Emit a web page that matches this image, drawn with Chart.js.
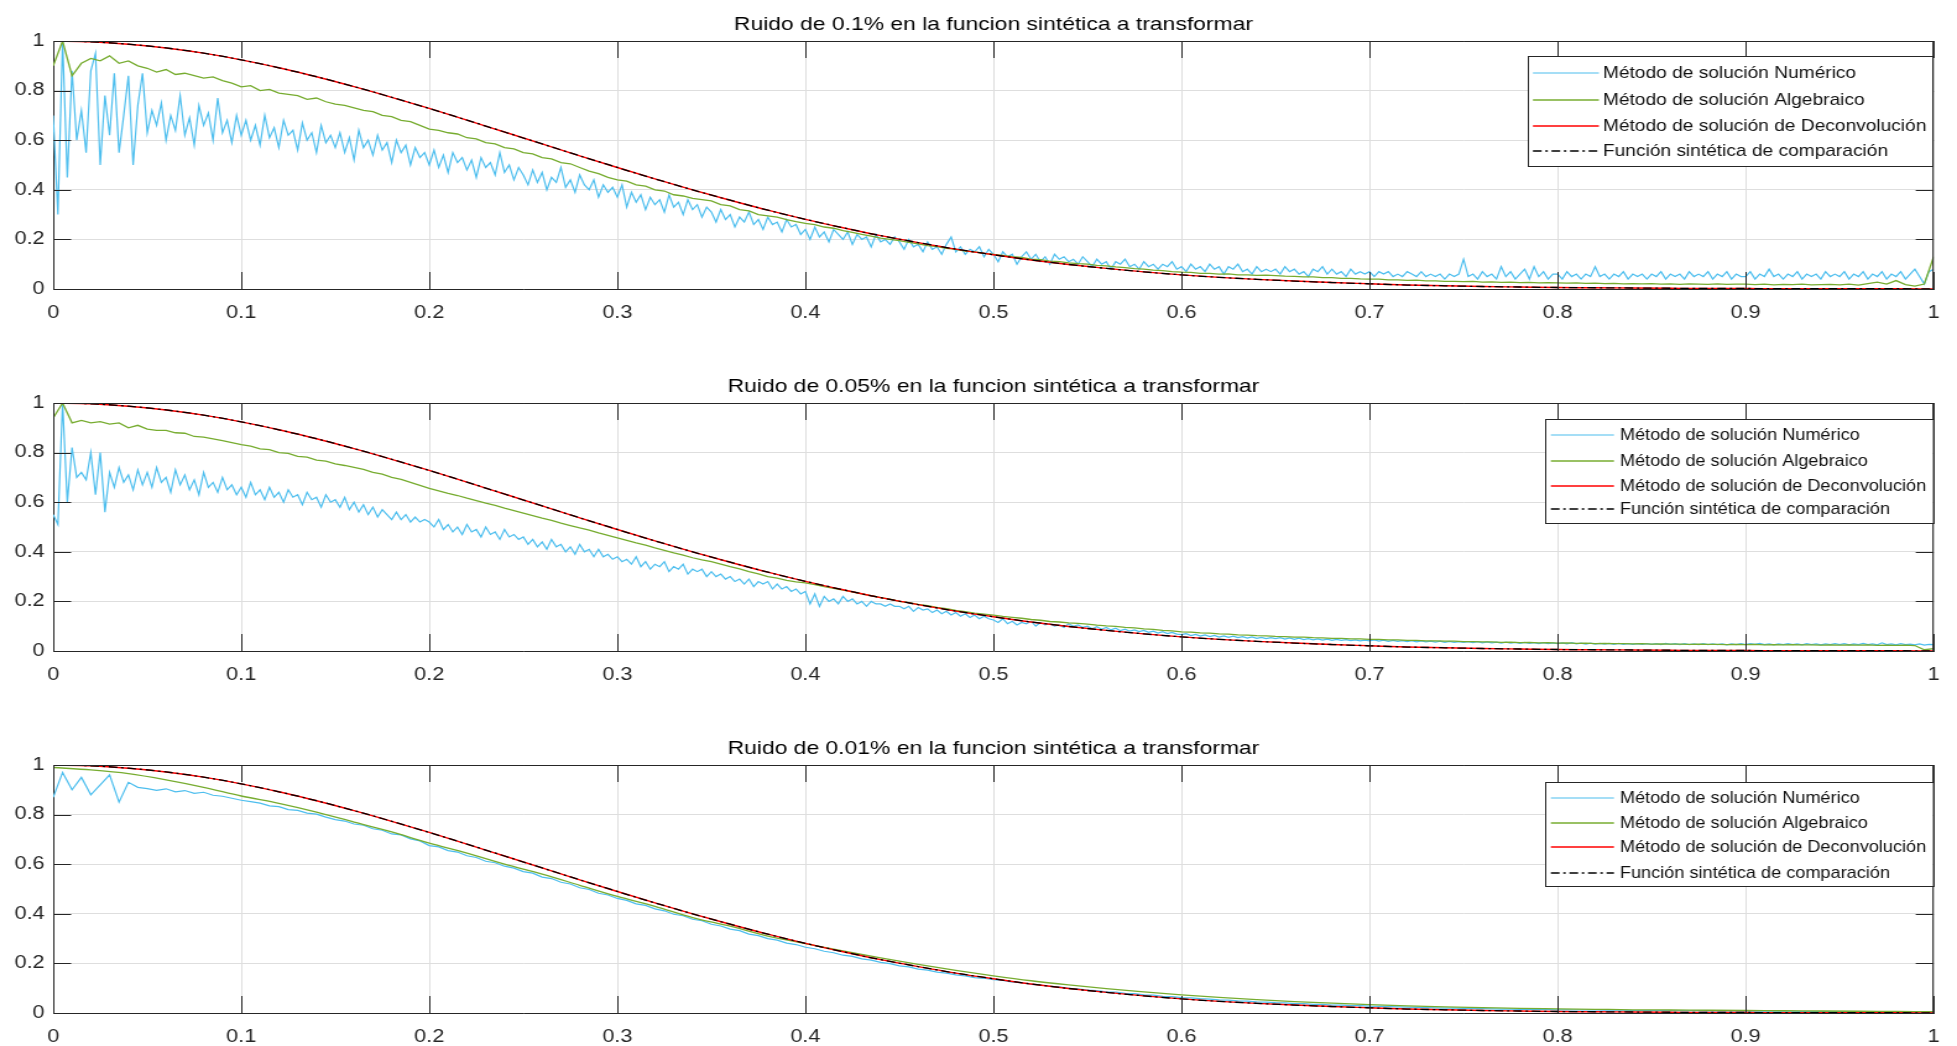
<!DOCTYPE html>
<html><head><meta charset="utf-8">
<script src="https://cdn.jsdelivr.net/npm/chart.js@4.4.1/dist/chart.umd.min.js"></script>
<style>
html,body{margin:0;padding:0;background:#fff;width:1957px;height:1046px;overflow:hidden;}
canvas.panel{position:absolute;left:0;transform-origin:0 0;transform:scaleX(1.23704);}
</style></head><body>
<canvas id="c0" class="panel" width="1582" height="334" style="top:0px;width:1582px;height:334px"></canvas>
<canvas id="c1" class="panel" width="1582" height="334" style="top:362px;width:1582px;height:334px"></canvas>
<canvas id="c2" class="panel" width="1582" height="334" style="top:724px;width:1582px;height:334px"></canvas>
<script>
// ---------- DATA ----------
const titulos = [
  'Ruido de 0.1% en la funcion sintética a transformar',
  'Ruido de 0.05% en la funcion sintética a transformar',
  'Ruido de 0.01% en la funcion sintética a transformar'
];
const seriesLabels = [
  'Método de solución Numérico',
  'Método de solución Algebraico',
  'Método de solución de Deconvolución',
  'Función sintética de comparación'
];
const xTicks = [0,0.1,0.2,0.3,0.4,0.5,0.6,0.7,0.8,0.9,1];
const xTickLabels = ['0','0.1','0.2','0.3','0.4','0.5','0.6','0.7','0.8','0.9','1'];
const yTicks = [0,0.2,0.4,0.6,0.8,1];
const yTickLabels = ['0','0.2','0.4','0.6','0.8','1'];

// fine grid (step 0.0025) for the noisy numeric series of the 0.1% and 0.05% panels
const xDenso = [
0,0.0025,0.005,0.0075,0.01,0.0125,0.015,0.0175,0.02,0.0225,0.025,0.0275,0.03,0.0325,0.035,0.0375,0.04,0.0425,0.045,0.0475,
0.05,0.0525,0.055,0.0575,0.06,0.0625,0.065,0.0675,0.07,0.0725,0.075,0.0775,0.08,0.0825,0.085,0.0875,0.09,0.0925,0.095,0.0975,
0.1,0.1025,0.105,0.1075,0.11,0.1125,0.115,0.1175,0.12,0.1225,0.125,0.1275,0.13,0.1325,0.135,0.1375,0.14,0.1425,0.145,0.1475,
0.15,0.1525,0.155,0.1575,0.16,0.1625,0.165,0.1675,0.17,0.1725,0.175,0.1775,0.18,0.1825,0.185,0.1875,0.19,0.1925,0.195,0.1975,
0.2,0.2025,0.205,0.2075,0.21,0.2125,0.215,0.2175,0.22,0.2225,0.225,0.2275,0.23,0.2325,0.235,0.2375,0.24,0.2425,0.245,0.2475,
0.25,0.2525,0.255,0.2575,0.26,0.2625,0.265,0.2675,0.27,0.2725,0.275,0.2775,0.28,0.2825,0.285,0.2875,0.29,0.2925,0.295,0.2975,
0.3,0.3025,0.305,0.3075,0.31,0.3125,0.315,0.3175,0.32,0.3225,0.325,0.3275,0.33,0.3325,0.335,0.3375,0.34,0.3425,0.345,0.3475,
0.35,0.3525,0.355,0.3575,0.36,0.3625,0.365,0.3675,0.37,0.3725,0.375,0.3775,0.38,0.3825,0.385,0.3875,0.39,0.3925,0.395,0.3975,
0.4,0.4025,0.405,0.4075,0.41,0.4125,0.415,0.4175,0.42,0.4225,0.425,0.4275,0.43,0.4325,0.435,0.4375,0.44,0.4425,0.445,0.4475,
0.45,0.4525,0.455,0.4575,0.46,0.4625,0.465,0.4675,0.47,0.4725,0.475,0.4775,0.48,0.4825,0.485,0.4875,0.49,0.4925,0.495,0.4975,
0.5,0.5025,0.505,0.5075,0.51,0.5125,0.515,0.5175,0.52,0.5225,0.525,0.5275,0.53,0.5325,0.535,0.5375,0.54,0.5425,0.545,0.5475,
0.55,0.5525,0.555,0.5575,0.56,0.5625,0.565,0.5675,0.57,0.5725,0.575,0.5775,0.58,0.5825,0.585,0.5875,0.59,0.5925,0.595,0.5975,
0.6,0.6025,0.605,0.6075,0.61,0.6125,0.615,0.6175,0.62,0.6225,0.625,0.6275,0.63,0.6325,0.635,0.6375,0.64,0.6425,0.645,0.6475,
0.65,0.6525,0.655,0.6575,0.66,0.6625,0.665,0.6675,0.67,0.6725,0.675,0.6775,0.68,0.6825,0.685,0.6875,0.69,0.6925,0.695,0.6975,
0.7,0.7025,0.705,0.7075,0.71,0.7125,0.715,0.7175,0.72,0.7225,0.725,0.7275,0.73,0.7325,0.735,0.7375,0.74,0.7425,0.745,0.7475,
0.75,0.7525,0.755,0.7575,0.76,0.7625,0.765,0.7675,0.77,0.7725,0.775,0.7775,0.78,0.7825,0.785,0.7875,0.79,0.7925,0.795,0.7975,
0.8,0.8025,0.805,0.8075,0.81,0.8125,0.815,0.8175,0.82,0.8225,0.825,0.8275,0.83,0.8325,0.835,0.8375,0.84,0.8425,0.845,0.8475,
0.85,0.8525,0.855,0.8575,0.86,0.8625,0.865,0.8675,0.87,0.8725,0.875,0.8775,0.88,0.8825,0.885,0.8875,0.89,0.8925,0.895,0.8975,
0.9,0.9025,0.905,0.9075,0.91,0.9125,0.915,0.9175,0.92,0.9225,0.925,0.9275,0.93,0.9325,0.935,0.9375,0.94,0.9425,0.945,0.9475,
0.95,0.9525,0.955,0.9575,0.96,0.9625,0.965,0.9675,0.97,0.9725,0.975,0.9775,0.98,0.9825,0.985,0.9875,0.99,0.9925,0.995,0.9975,
1];

// grid step 0.005
const xFino = [
0,0.005,0.01,0.015,0.02,0.025,0.03,0.035,0.04,0.045,
0.05,0.055,0.06,0.065,0.07,0.075,0.08,0.085,0.09,0.095,
0.1,0.105,0.11,0.115,0.12,0.125,0.13,0.135,0.14,0.145,
0.15,0.155,0.16,0.165,0.17,0.175,0.18,0.185,0.19,0.195,
0.2,0.205,0.21,0.215,0.22,0.225,0.23,0.235,0.24,0.245,
0.25,0.255,0.26,0.265,0.27,0.275,0.28,0.285,0.29,0.295,
0.3,0.305,0.31,0.315,0.32,0.325,0.33,0.335,0.34,0.345,
0.35,0.355,0.36,0.365,0.37,0.375,0.38,0.385,0.39,0.395,
0.4,0.405,0.41,0.415,0.42,0.425,0.43,0.435,0.44,0.445,
0.45,0.455,0.46,0.465,0.47,0.475,0.48,0.485,0.49,0.495,
0.5,0.505,0.51,0.515,0.52,0.525,0.53,0.535,0.54,0.545,
0.55,0.555,0.56,0.565,0.57,0.575,0.58,0.585,0.59,0.595,
0.6,0.605,0.61,0.615,0.62,0.625,0.63,0.635,0.64,0.645,
0.65,0.655,0.66,0.665,0.67,0.675,0.68,0.685,0.69,0.695,
0.7,0.705,0.71,0.715,0.72,0.725,0.73,0.735,0.74,0.745,
0.75,0.755,0.76,0.765,0.77,0.775,0.78,0.785,0.79,0.795,
0.8,0.805,0.81,0.815,0.82,0.825,0.83,0.835,0.84,0.845,
0.85,0.855,0.86,0.865,0.87,0.875,0.88,0.885,0.89,0.895,
0.9,0.905,0.91,0.915,0.92,0.925,0.93,0.935,0.94,0.945,
0.95,0.955,0.96,0.965,0.97,0.975,0.98,0.985,0.99,0.995,
1];

// grid step 0.02 for the smooth curves
const xSuave = [0,0.02,0.04,0.06,0.08,0.1,0.12,0.14,0.16,0.18,
0.2,0.22,0.24,0.26,0.28,0.3,0.32,0.34,0.36,0.38,
0.4,0.42,0.44,0.46,0.48,0.5,0.52,0.54,0.56,0.58,
0.6,0.62,0.64,0.66,0.68,0.7,0.72,0.74,0.76,0.78,
0.8,0.82,0.84,0.86,0.88,0.9,0.92,0.94,0.96,0.98,1];

const sintetica = [1,0.997,0.987,0.972,0.951,0.924,0.892,0.856,0.816,0.773,
0.728,0.681,0.633,0.585,0.537,0.490,0.444,0.400,0.358,0.318,
0.281,0.247,0.215,0.187,0.161,0.138,0.117,0.099,0.083,0.069,
0.057,0.047,0.039,0.032,0.026,0.021,0.016,0.013,0.010,0.008,
0.006,0.005,0.004,0.003,0.002,0.002,0.001,0.001,0.001,0.001,0.000];

const deconvolucion = [1,0.997,0.987,0.972,0.951,0.924,0.892,0.856,0.816,0.773,
0.728,0.681,0.633,0.585,0.537,0.490,0.444,0.400,0.358,0.318,
0.281,0.247,0.215,0.187,0.161,0.138,0.117,0.099,0.083,0.069,
0.057,0.047,0.039,0.032,0.026,0.021,0.016,0.013,0.010,0.008,
0.006,0.005,0.004,0.003,0.002,0.002,0.001,0.001,0.001,0.001,0.000];

// Ruido 0.1 %  (numeric on xDenso, algebraic on xFino)
const numerico01 = [
0.70,0.30,1.00,0.45,0.88,0.60,0.72,0.55,0.88,0.95,0.50,0.78,0.62,0.87,0.55,0.70,0.86,0.50,0.74,0.87,
0.63,0.72,0.66,0.75,0.60,0.70,0.64,0.78,0.62,0.69,0.58,0.74,0.66,0.71,0.60,0.77,0.63,0.68,0.59,0.70,
0.62,0.68,0.60,0.66,0.58,0.70,0.61,0.65,0.57,0.68,0.62,0.64,0.56,0.67,0.60,0.63,0.55,0.66,0.59,0.62,
0.57,0.63,0.55,0.61,0.52,0.64,0.57,0.60,0.54,0.62,0.56,0.59,0.51,0.60,0.55,0.58,0.50,0.57,0.53,0.55,
0.50,0.56,0.49,0.54,0.47,0.55,0.51,0.53,0.48,0.52,0.45,0.53,0.49,0.51,0.46,0.55,0.47,0.50,0.44,0.49,
0.46,0.42,0.48,0.43,0.47,0.40,0.45,0.43,0.49,0.41,0.44,0.39,0.46,0.42,0.40,0.44,0.37,0.42,0.39,0.41,
0.37,0.42,0.33,0.39,0.35,0.38,0.32,0.37,0.34,0.36,0.31,0.38,0.33,0.35,0.30,0.36,0.32,0.34,0.29,0.33,
0.31,0.27,0.32,0.28,0.30,0.25,0.29,0.27,0.31,0.26,0.28,0.24,0.29,0.26,0.27,0.23,0.28,0.25,0.26,0.22,
0.24,0.20,0.25,0.21,0.23,0.19,0.24,0.22,0.20,0.23,0.18,0.22,0.20,0.21,0.17,0.22,0.19,0.20,0.18,0.21,
0.19,0.16,0.20,0.17,0.18,0.15,0.19,0.16,0.17,0.14,0.18,0.21,0.15,0.17,0.14,0.16,0.15,0.17,0.13,0.16,
0.14,0.11,0.15,0.13,0.14,0.10,0.13,0.15,0.12,0.14,0.11,0.13,0.10,0.14,0.12,0.13,0.11,0.12,0.10,0.13,
0.11,0.09,0.12,0.10,0.11,0.08,0.11,0.10,0.12,0.09,0.10,0.08,0.11,0.09,0.10,0.08,0.10,0.09,0.11,0.08,
0.09,0.07,0.10,0.08,0.09,0.07,0.10,0.08,0.09,0.06,0.09,0.08,0.10,0.07,0.08,0.06,0.09,0.07,0.08,0.07,
0.08,0.06,0.09,0.07,0.08,0.06,0.07,0.05,0.08,0.07,0.09,0.06,0.08,0.06,0.07,0.05,0.08,0.06,0.07,0.06,
0.07,0.05,0.07,0.06,0.07,0.05,0.06,0.05,0.07,0.06,0.05,0.07,0.05,0.06,0.05,0.06,0.04,0.06,0.05,0.06,
0.12,0.05,0.06,0.04,0.07,0.05,0.06,0.04,0.09,0.05,0.07,0.04,0.06,0.08,0.04,0.09,0.05,0.07,0.04,0.06,
0.06,0.04,0.07,0.05,0.06,0.04,0.06,0.05,0.09,0.05,0.06,0.04,0.06,0.05,0.07,0.04,0.06,0.05,0.06,0.04,
0.06,0.05,0.07,0.04,0.06,0.05,0.06,0.04,0.07,0.05,0.06,0.05,0.07,0.04,0.06,0.05,0.07,0.04,0.06,0.05,
0.05,0.07,0.04,0.06,0.05,0.08,0.05,0.06,0.04,0.06,0.05,0.07,0.04,0.06,0.05,0.06,0.04,0.07,0.05,0.06,
0.05,0.07,0.04,0.06,0.05,0.07,0.04,0.06,0.05,0.07,0.04,0.06,0.05,0.07,0.04,0.06,0.08,0.05,0.02,0.07,
0.08];
const algebraico01 = [
0.90,1.00,0.86,0.91,0.93,0.92,0.94,0.91,0.92,0.90,
0.89,0.875,0.885,0.865,0.87,0.86,0.85,0.855,0.84,0.83,
0.815,0.82,0.80,0.805,0.79,0.785,0.78,0.765,0.77,0.755,
0.745,0.74,0.73,0.72,0.715,0.70,0.695,0.68,0.675,0.66,
0.645,0.64,0.63,0.625,0.61,0.605,0.59,0.585,0.57,0.565,
0.55,0.545,0.53,0.525,0.51,0.505,0.49,0.475,0.465,0.45,
0.44,0.435,0.42,0.415,0.40,0.395,0.38,0.375,0.365,0.36,
0.355,0.34,0.335,0.32,0.315,0.30,0.295,0.29,0.28,0.272,
0.265,0.26,0.25,0.245,0.235,0.228,0.22,0.213,0.205,0.20,
0.195,0.188,0.182,0.175,0.171,0.164,0.16,0.153,0.15,0.144,
0.14,0.136,0.13,0.127,0.12,0.118,0.112,0.11,0.105,0.102,
0.10,0.095,0.093,0.089,0.086,0.082,0.08,0.076,0.074,0.07,
0.068,0.067,0.063,0.063,0.06,0.061,0.057,0.057,0.055,0.056,
0.054,0.052,0.051,0.049,0.049,0.046,0.046,0.043,0.043,0.041,
0.04,0.04,0.037,0.037,0.035,0.036,0.033,0.033,0.031,0.031,
0.03,0.031,0.028,0.029,0.027,0.028,0.026,0.027,0.025,0.026,
0.025,0.024,0.025,0.023,0.024,0.022,0.023,0.021,0.022,0.021,
0.022,0.02,0.021,0.019,0.021,0.02,0.019,0.021,0.019,0.02,
0.02,0.018,0.02,0.017,0.019,0.018,0.02,0.017,0.018,0.019,
0.017,0.02,0.016,0.022,0.028,0.02,0.034,0.018,0.012,0.02,
0.13];

// Ruido 0.05 %  (numeric on xDenso, algebraic on xFino)
const numerico005 = [
0.55,0.51,1.00,0.60,0.82,0.70,0.72,0.69,0.80,0.63,0.80,0.56,0.72,0.66,0.74,0.68,0.71,0.65,0.73,0.67,
0.72,0.66,0.74,0.68,0.70,0.64,0.73,0.67,0.71,0.65,0.69,0.63,0.72,0.66,0.68,0.64,0.70,0.65,0.67,0.63,
0.66,0.62,0.68,0.63,0.65,0.61,0.66,0.62,0.64,0.60,0.65,0.62,0.63,0.59,0.64,0.61,0.62,0.58,0.63,0.60,
0.61,0.58,0.62,0.57,0.60,0.56,0.59,0.55,0.58,0.54,0.57,0.55,0.53,0.56,0.53,0.55,0.52,0.54,0.52,0.53,
0.52,0.50,0.53,0.49,0.51,0.48,0.50,0.47,0.51,0.48,0.49,0.46,0.50,0.47,0.48,0.45,0.49,0.46,0.47,0.45,
0.46,0.43,0.45,0.42,0.44,0.41,0.45,0.42,0.43,0.40,0.42,0.39,0.43,0.40,0.41,0.38,0.41,0.38,0.39,0.37,
0.38,0.36,0.37,0.35,0.38,0.34,0.36,0.33,0.35,0.34,0.36,0.32,0.34,0.33,0.35,0.31,0.33,0.32,0.33,0.30,
0.32,0.30,0.31,0.29,0.30,0.28,0.29,0.27,0.29,0.26,0.28,0.27,0.28,0.25,0.27,0.25,0.26,0.24,0.25,0.23,
0.24,0.19,0.23,0.18,0.22,0.20,0.21,0.19,0.22,0.20,0.21,0.19,0.20,0.18,0.20,0.19,0.19,0.18,0.19,0.18,
0.18,0.17,0.18,0.16,0.175,0.165,0.17,0.155,0.165,0.15,0.16,0.145,0.155,0.14,0.15,0.135,0.145,0.13,0.14,0.13,
0.125,0.115,0.13,0.11,0.12,0.105,0.115,0.11,0.12,0.10,0.115,0.105,0.11,0.10,0.105,0.095,0.11,0.10,0.105,0.095,
0.10,0.09,0.098,0.088,0.095,0.085,0.092,0.082,0.088,0.08,0.085,0.078,0.083,0.075,0.08,0.072,0.078,0.07,0.075,0.068,
0.066,0.07,0.062,0.067,0.06,0.065,0.058,0.063,0.056,0.061,0.055,0.06,0.054,0.058,0.052,0.057,0.051,0.055,0.05,0.054,
0.05,0.054,0.048,0.053,0.047,0.052,0.046,0.05,0.045,0.049,0.044,0.048,0.043,0.047,0.043,0.046,0.042,0.045,0.041,0.044,
0.041,0.045,0.04,0.044,0.039,0.043,0.039,0.042,0.038,0.042,0.037,0.041,0.037,0.04,0.036,0.04,0.035,0.039,0.035,0.038,
0.035,0.038,0.034,0.038,0.033,0.037,0.033,0.036,0.032,0.036,0.032,0.035,0.031,0.035,0.031,0.034,0.03,0.034,0.03,0.033,
0.03,0.033,0.029,0.034,0.029,0.032,0.028,0.032,0.028,0.031,0.028,0.031,0.027,0.031,0.027,0.03,0.027,0.03,0.027,0.03,
0.027,0.03,0.026,0.031,0.027,0.03,0.026,0.03,0.026,0.029,0.026,0.03,0.026,0.029,0.026,0.029,0.025,0.029,0.026,0.03,
0.026,0.03,0.027,0.031,0.026,0.029,0.025,0.029,0.026,0.03,0.026,0.029,0.025,0.03,0.026,0.029,0.025,0.029,0.026,0.03,
0.026,0.03,0.025,0.029,0.026,0.031,0.026,0.029,0.025,0.033,0.026,0.029,0.025,0.03,0.026,0.028,0.025,0.029,0.024,0.027,
0.026];
const algebraico005 = [
0.94,1.00,0.92,0.93,0.92,0.925,0.915,0.92,0.90,0.91,
0.895,0.89,0.89,0.88,0.878,0.865,0.862,0.855,0.848,0.84,
0.832,0.826,0.815,0.812,0.80,0.797,0.785,0.782,0.77,0.766,
0.755,0.748,0.74,0.732,0.72,0.713,0.70,0.692,0.68,0.668,
0.656,0.646,0.636,0.627,0.616,0.606,0.596,0.587,0.576,0.566,
0.556,0.546,0.536,0.527,0.516,0.506,0.496,0.487,0.476,0.466,
0.456,0.446,0.436,0.427,0.416,0.406,0.396,0.387,0.376,0.367,
0.36,0.35,0.34,0.331,0.32,0.311,0.30,0.294,0.285,0.279,
0.275,0.268,0.26,0.253,0.245,0.238,0.23,0.223,0.215,0.209,
0.20,0.195,0.188,0.183,0.176,0.171,0.164,0.159,0.153,0.149,
0.145,0.14,0.136,0.132,0.127,0.124,0.119,0.117,0.113,0.111,
0.108,0.104,0.101,0.099,0.095,0.093,0.089,0.087,0.083,0.081,
0.077,0.076,0.073,0.072,0.069,0.068,0.065,0.064,0.062,0.061,
0.059,0.058,0.056,0.056,0.054,0.053,0.051,0.051,0.049,0.049,
0.047,0.047,0.045,0.045,0.043,0.043,0.041,0.041,0.04,0.04,
0.038,0.038,0.037,0.037,0.035,0.036,0.034,0.035,0.033,0.034,
0.032,0.033,0.031,0.032,0.03,0.031,0.03,0.03,0.029,0.03,
0.028,0.029,0.028,0.028,0.027,0.028,0.027,0.027,0.026,0.027,
0.026,0.027,0.025,0.026,0.025,0.026,0.025,0.025,0.024,0.025,
0.024,0.025,0.024,0.025,0.023,0.024,0.023,0.024,0.022,0.005,
0.01];

// Ruido 0.01 %  (numeric on xFino, algebraic on xSuave)
const numerico001 = [
0.87,0.97,0.90,0.95,0.88,0.92,0.96,0.85,0.93,0.91,
0.905,0.898,0.904,0.892,0.897,0.886,0.890,0.878,0.874,0.866,
0.858,0.852,0.846,0.835,0.832,0.820,0.817,0.806,0.802,0.790,
0.780,0.774,0.762,0.757,0.743,0.737,0.722,0.718,0.702,0.694,
0.675,0.670,0.655,0.649,0.634,0.627,0.612,0.606,0.592,0.584,
0.570,0.564,0.548,0.542,0.527,0.520,0.505,0.498,0.483,0.476,
0.462,0.454,0.440,0.434,0.420,0.412,0.398,0.392,0.378,0.372,
0.358,0.351,0.338,0.332,0.318,0.312,0.300,0.294,0.282,0.276,
0.265,0.259,0.249,0.243,0.233,0.228,0.218,0.213,0.204,0.199,
0.190,0.186,0.177,0.173,0.165,0.161,0.154,0.150,0.143,0.140,
0.134,0.131,0.124,0.122,0.115,0.113,0.107,0.105,0.099,0.097,
0.092,0.090,0.085,0.084,0.079,0.078,0.073,0.072,0.067,0.066,
0.062,0.061,0.058,0.056,0.053,0.052,0.049,0.048,0.045,0.044,
0.042,0.041,0.038,0.038,0.035,0.035,0.032,0.032,0.030,0.030,
0.028,0.027,0.026,0.025,0.024,0.023,0.022,0.021,0.020,0.020,
0.019,0.018,0.018,0.017,0.016,0.016,0.015,0.015,0.014,0.014,
0.013,0.013,0.012,0.012,0.012,0.011,0.011,0.011,0.010,0.010,
0.010,0.010,0.009,0.009,0.009,0.009,0.008,0.008,0.008,0.008,
0.008,0.007,0.007,0.007,0.007,0.007,0.006,0.006,0.006,0.006,
0.006,0.006,0.005,0.005,0.005,0.005,0.005,0.005,0.004,0.004,
0.003];
const algebraico001 = [0.99,0.98,0.965,0.94,0.91,0.875,0.845,0.81,0.77,0.73,
0.685,0.645,0.60,0.56,0.515,0.47,0.43,0.385,0.35,0.31,
0.28,0.25,0.222,0.196,0.172,0.15,0.13,0.113,0.098,0.085,
0.073,0.063,0.054,0.046,0.04,0.034,0.029,0.025,0.022,0.019,
0.017,0.015,0.013,0.012,0.011,0.01,0.009,0.008,0.007,0.006,0.005];

// ---------- STYLE / LAYOUT ----------
const FONT = "'Liberation Sans', Arial, Helvetica, sans-serif";
const AXIS_COLOR = '#262626';
const GRID_COLOR = '#dedede';
const COLORS = ['#4DBEEE', '#77AC30', '#FF0000', '#000000'];

const paneles = [
  {id:'c0', titulo:titulos[0], num:[xDenso,numerico01], alg:[xFino,algebraico01], algSuave:false,
   leg:{x0:1235.2,x1:1562.5,y0:15,y1:125,s0:1239.2,s1:1292.5,tx:1295.8,rows:[32,59,85,110],squeeze:0.91}},
  {id:'c1', titulo:titulos[1], num:[xDenso,numerico005], alg:[xFino,algebraico005], algSuave:false,
   leg:{x0:1248.9,x1:1562.5,y0:16,y1:120,s0:1253.7,s1:1304.7,tx:1309.5,rows:[32,58,83,106],squeeze:0.862}},
  {id:'c2', titulo:titulos[2], num:[xFino,numerico001], alg:[xSuave,algebraico001], algSuave:true,
   leg:{x0:1248.9,x1:1562.5,y0:17,y1:121,s0:1253.7,s1:1304.7,tx:1309.5,rows:[33,58,82,108],squeeze:0.862}}
];

const pts = (xs, ys) => xs.map((x, i) => ({x: x, y: ys[i]}));

function boxPlugin() {
  return {
    id: 'caja',
    afterDraw(chart) {
      const ctx = chart.ctx, a = chart.chartArea;
      const sx = chart.scales.x, sy = chart.scales.y;
      ctx.save();
      ctx.strokeStyle = AXIS_COLOR;
      ctx.lineWidth = 1;
      ctx.beginPath();
      ctx.moveTo(a.left, a.top + 0.5); ctx.lineTo(a.right, a.top + 0.5);
      ctx.moveTo(a.right - 0.5, a.top); ctx.lineTo(a.right - 0.5, a.bottom);
      xTicks.forEach(v => {
        const px = Math.round(sx.getPixelForValue(v)) + 0.5;
        ctx.moveTo(px, a.bottom); ctx.lineTo(px, a.bottom - 17);
        ctx.moveTo(px, a.top); ctx.lineTo(px, a.top + 17);
      });
      yTicks.forEach(v => {
        const py = Math.round(sy.getPixelForValue(v)) + 0.5;
        ctx.moveTo(a.left, py); ctx.lineTo(a.left + 14.5, py);
        ctx.moveTo(a.right, py); ctx.lineTo(a.right - 14.5, py);
      });
      ctx.stroke();
      ctx.restore();
    }
  };
}

function titlePlugin(text) {
  return {
    id: 'titulo',
    afterDraw(chart) {
      const ctx = chart.ctx, a = chart.chartArea;
      ctx.save();
      ctx.fillStyle = '#000';
      ctx.font = '18.5px ' + FONT;
      ctx.textAlign = 'center';
      ctx.textBaseline = 'alphabetic';
      ctx.fillText(text, (a.left + a.right) / 2, a.top - 11);
      ctx.restore();
    }
  };
}

function legendPlugin(L) {
  return {
    id: 'leyenda',
    afterDraw(chart) {
      const ctx = chart.ctx, top = chart.chartArea.top;
      ctx.save();
      ctx.fillStyle = '#fff';
      ctx.fillRect(L.x0, top + L.y0, L.x1 - L.x0, L.y1 - L.y0);
      ctx.strokeStyle = AXIS_COLOR;
      ctx.lineWidth = 1;
      ctx.strokeRect(Math.round(L.x0) + 0.5, Math.round(top + L.y0) + 0.5, Math.round(L.x1 - L.x0), Math.round(L.y1 - L.y0));
      chart.data.datasets.forEach((ds, i) => {
        const y = top + L.rows[i];
        ctx.strokeStyle = ds.borderColor;
        ctx.lineWidth = ds.borderWidth;
        ctx.setLineDash(ds.borderDash || []);
        ctx.beginPath();
        ctx.moveTo(L.s0, y); ctx.lineTo(L.s1, y);
        ctx.stroke();
        ctx.setLineDash([]);
        ctx.save();
        ctx.translate(L.tx, y);
        ctx.scale(L.squeeze, 1);
        ctx.fillStyle = '#111';
        ctx.font = '17px ' + FONT;
        ctx.textAlign = 'left';
        ctx.textBaseline = 'middle';
        ctx.fillText(ds.label, 0, 0);
        ctx.restore();
      });
      ctx.restore();
    }
  };
}

paneles.forEach(p => {
  new Chart(document.getElementById(p.id), {
    type: 'line',
    data: {
      datasets: [
        {label: seriesLabels[0], data: pts(p.num[0], p.num[1]), borderColor: COLORS[0], borderWidth: 1.2, order: 4},
        {label: seriesLabels[1], data: pts(p.alg[0], p.alg[1]), borderColor: COLORS[1], borderWidth: 1.3, order: 3,
         cubicInterpolationMode: p.algSuave ? 'monotone' : 'default'},
        {label: seriesLabels[2], data: pts(xSuave, deconvolucion), borderColor: COLORS[2], borderWidth: 1.4, order: 2,
         cubicInterpolationMode: 'monotone'},
        {label: seriesLabels[3], data: pts(xSuave, sintetica), borderColor: COLORS[3], borderWidth: 1.3, order: 1,
         borderDash: [7, 3, 2, 3], cubicInterpolationMode: 'monotone'}
      ]
    },
    options: {
      responsive: false,
      animation: false,
      devicePixelRatio: 1,
      layout: {padding: {top: 41, right: 8, left: 0, bottom: 0}},
      elements: {point: {radius: 0}, line: {tension: 0, fill: false}},
      plugins: {legend: {display: false}, title: {display: false}, tooltip: {enabled: false}},
      scales: {
        x: {
          type: 'linear', min: 0, max: 1,
          afterBuildTicks: s => { s.ticks = xTicks.map(v => ({value: v})); },
          afterFit: s => { s.height = 45; },
          ticks: {callback: (v, i) => xTickLabels[i], padding: 14, autoSkip: false, maxRotation: 0,
                  color: AXIS_COLOR, font: {family: FONT, size: 17.5}},
          grid: {color: GRID_COLOR, drawTicks: false, lineWidth: 1},
          border: {display: true, color: AXIS_COLOR, width: 1}
        },
        y: {
          type: 'linear', min: 0, max: 1,
          afterBuildTicks: s => { s.ticks = yTicks.map(v => ({value: v})); },
          afterFit: s => { s.width = 43; },
          ticks: {callback: (v, i) => yTickLabels[i], padding: 7, autoSkip: false,
                  color: AXIS_COLOR, font: {family: FONT, size: 17.5}},
          grid: {color: GRID_COLOR, drawTicks: false, lineWidth: 1},
          border: {display: true, color: AXIS_COLOR, width: 1}
        }
      }
    },
    plugins: [boxPlugin(), titlePlugin(p.titulo), legendPlugin(p.leg)]
  });
});
</script>
</body></html>
